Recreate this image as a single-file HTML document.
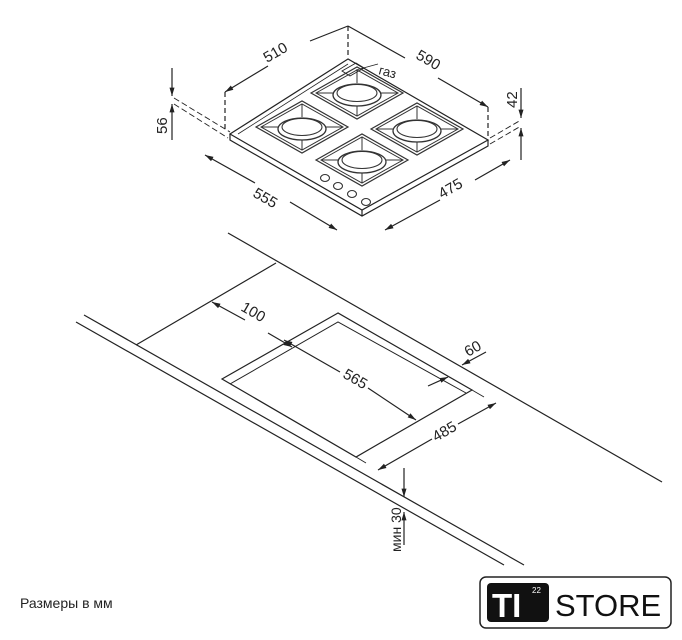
<!DOCTYPE html>
<html><head><meta charset="utf-8"><style>
body{margin:0;background:#fff;width:682px;height:640px;overflow:hidden}
svg{display:block}
text{font-family:"Liberation Sans","DejaVu Sans",sans-serif;fill:#222}
</style></head><body>
<svg width="682" height="640" viewBox="0 0 682 640" xmlns="http://www.w3.org/2000/svg">
<defs>
<marker id="a" viewBox="0 0 10 10" refX="10" refY="5" markerWidth="7" markerHeight="7" orient="auto-start-reverse"><path d="M0,2L10,5L0,8z" fill="#222"/></marker>
<g id="burner">
<path d="M-46,0L0,-26L46,0L0,26Z" fill="none" stroke="#333" stroke-width="1.2"/>
<path d="M-41,0L0,-23L41,0L0,23Z" fill="none" stroke="#333" stroke-width="1"/>
<path d="M-41,0H-22M22,0H41M0,-23V-10M0,10V23" stroke="#333" stroke-width="1"/>
<ellipse cx="0" cy="2" rx="24" ry="11" fill="#fff" stroke="#333" stroke-width="1.3"/>
<ellipse cx="0" cy="0" rx="20" ry="8.5" fill="#fff" stroke="#333" stroke-width="1.1"/>
</g>
</defs>
<g stroke="#222" fill="none" stroke-width="1.2">
<path d="M348,59L230,134L362,210L488,140Z" fill="#fff"/>
<path d="M230,134V140L362,216L488,146V140M362,210V216"/>
<path d="M348,64L238,134" stroke-width="0.8"/>
<path d="M225,92V130M348,26V58M488,107V138" stroke-dasharray="5,3"/>
<path d="M225,92L268,66M310,41L348,26" marker-start="url(#a)"/>
<path d="M348,26L405,58M438,78L488,107" marker-end="url(#a)"/>
<path d="M205,155L255,183M290,202L337,230" marker-start="url(#a)" marker-end="url(#a)"/>
<path d="M385,230L440,200M475,180L510,160" marker-start="url(#a)" marker-end="url(#a)"/>
<path d="M172,68V96" marker-end="url(#a)"/><path d="M172,140V104" marker-end="url(#a)"/>
<path d="M174,98L230,132M174,104L228,138" stroke-dasharray="6,3" stroke-width="0.9"/>
<path d="M521,88V118" marker-end="url(#a)"/><path d="M521,160V128" marker-end="url(#a)"/>
<path d="M490,138L521,120M490,144L521,126" stroke-dasharray="6,3" stroke-width="0.9"/>
<path d="M356,70L378,64" stroke-width="0.9"/>
<path d="M342,71L356,63L364,68L350,76Z" stroke-width="0.9"/>
</g>
<use href="#burner" x="357" y="93"/>
<use href="#burner" x="302" y="127"/>
<use href="#burner" x="417" y="129"/>
<use href="#burner" x="362" y="160"/>
<g fill="#fff" stroke="#333" stroke-width="1.1">
<ellipse cx="325" cy="178" rx="4.5" ry="3.5"/><ellipse cx="338" cy="186" rx="4.5" ry="3.5"/>
<ellipse cx="352" cy="194" rx="4.5" ry="3.5"/><ellipse cx="366" cy="202" rx="4.5" ry="3.5"/>
</g>
<text x="0" y="0" font-size="15" transform="translate(267,63) rotate(-30)">510</text>
<text x="0" y="0" font-size="15" transform="translate(415,58) rotate(30)">590</text>
<text x="0" y="0" font-size="15" transform="translate(252,196) rotate(30)">555</text>
<text x="0" y="0" font-size="15" transform="translate(442,199) rotate(-30)">475</text>
<text x="0" y="0" font-size="15" transform="translate(167,134) rotate(-90)">56</text>
<text x="0" y="0" font-size="15" transform="translate(517,108) rotate(-90)">42</text>
<text x="378" y="74" font-size="13" transform="rotate(15,378,74)">газ</text>
<g stroke="#222" fill="none" stroke-width="1.2">
<path d="M228,233L662,482"/>
<path d="M84,315L524,565"/>
<path d="M76,322L504,565"/>
<path d="M136,345L276,263"/>
<path d="M338,313L222,379L356,457L472,390Z"/>
<path d="M230,384L338,322L466,393" stroke-width="1"/>
<path d="M212,302L245,320M268,333L292,347" marker-start="url(#a)" marker-end="url(#a)"/>
<path d="M284,340L340,372M368,388L416,420" marker-start="url(#a)" marker-end="url(#a)"/>
<path d="M428,386L448,377" marker-end="url(#a)"/>
<path d="M486,352L462,365" marker-end="url(#a)"/>
<path d="M378,470L432,439M458,424L496,403" marker-start="url(#a)" marker-end="url(#a)"/>
<path d="M366,463L356,457M484,397L472,390" stroke-width="0.9"/>
<path d="M404,468V497" marker-end="url(#a)"/><path d="M404,545V512" marker-end="url(#a)"/>
</g>
<text x="0" y="0" font-size="15" transform="translate(240,310) rotate(30)">100</text>
<text x="0" y="0" font-size="15" transform="translate(342,377) rotate(30)">565</text>
<text x="0" y="0" font-size="15" transform="translate(468,357) rotate(-30)">60</text>
<text x="0" y="0" font-size="15" transform="translate(436,442) rotate(-30)">485</text>
<text x="0" y="0" font-size="14" transform="translate(401,552) rotate(-90)">мин 30</text>
<text x="20" y="608" font-size="14">Размеры в мм</text>
<rect x="480" y="577" width="191" height="51" rx="6" fill="none" stroke="#222" stroke-width="1.5"/>
<rect x="487" y="583" width="62" height="39" rx="4" fill="#111"/>
<text x="492" y="617" font-size="33" font-weight="bold" style="fill:#fff">TI</text>
<text x="532" y="593" font-size="8" style="fill:#fff">22</text>
<text x="555" y="616" font-size="31" style="fill:#111">STORE</text>
</svg>
</body></html>
